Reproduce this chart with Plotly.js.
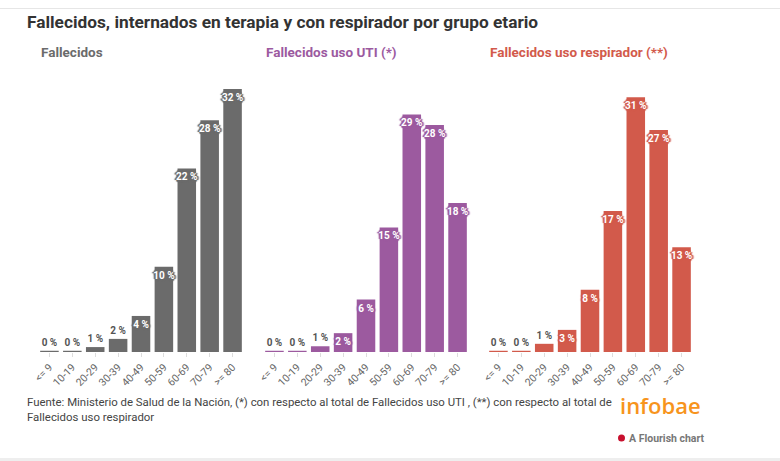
<!DOCTYPE html>
<html>
<head>
<meta charset="utf-8">
<script src="https://cdn.plot.ly/plotly-3.0.1.min.js"></script>
<style>
html,body{margin:0;padding:0;background:#fff;}
#chart{width:780px;height:461px;}
</style>
</head>
<body>
<div id="chart"></div>
<script>
const categories = ["<= 9","10-19","20-29","30-39","40-49","50-59","60-69","70-79",">= 80"];
const fallecidos = [0.15, 0.15, 0.6, 1.6, 4.4, 10.4, 22.4, 28.3, 32.1];
const fallecidosUTI = [0.15, 0.15, 0.7, 2.3, 6.4, 15.2, 29.0, 27.7, 18.2];
const fallecidosRespirador = [0.15, 0.15, 1.0, 2.7, 7.6, 17.2, 31.1, 27.1, 12.8];
const panelTitles = ["Fallecidos", "Fallecidos uso UTI (*)", "Fallecidos uso respirador (**)"];

const colors = ["#6b6b6b", "#9c5a9f", "#d25a4b"];
const series = [fallecidos, fallecidosUTI, fallecidosRespirador];
const domains = [[38/780, 244/780], [263/780, 469/780], [487/780, 693/780]];
const font = "Roboto, 'Open Sans', sans-serif";

const traces = series.map((vals, i) => {
  const c = colors[i];
  const halo = `1px 0 0 ${c}, -1px 0 0 ${c}, 0 1px 0 ${c}, 0 -1px 0 ${c}, 2px 0 1px ${c}, -2px 0 1px ${c}, 0 2px 1px ${c}, 0 -2px 1px ${c}`;
  return {
    type: "bar",
    x: categories,
    y: vals,
    xaxis: i === 0 ? "x" : "x" + (i + 1),
    yaxis: i === 0 ? "y" : "y" + (i + 1),
    marker: {color: c},
    text: vals.map(v => Math.round(v) + " %"),
    texttemplate: "%{text}",
    textposition: vals.map(v => v >= 2 ? "inside" : "outside"),
    insidetextanchor: "end",
    textangle: 0,
    constraintext: "none",
    cliponaxis: false,
    insidetextfont: {family: font, size: 10, color: "#ffffff", weight: 700, shadow: halo},
    outsidetextfont: {family: font, size: 10, color: "#555555", weight: 700},
    hoverinfo: "skip",
    showlegend: false
  };
});

const layout = {
  width: 780, height: 461,
  margin: {l: 0, r: 0, t: 89, b: 109},
  paper_bgcolor: "#ffffff",
  plot_bgcolor: "#ffffff",
  bargap: 0.19,
  font: {family: font, color: "#333"},
  annotations: [],
  shapes: [
    {type: "line", xref: "paper", yref: "paper", x0: 0, x1: 1, y0: 1 + (89 - 8.5) / 263, y1: 1 + (89 - 8.5) / 263, line: {color: "#e6e6e6", width: 1}},
    {type: "rect", xref: "paper", yref: "paper", x0: 0, x1: 1, y0: -(458 - 352) / 263, y1: -(461 - 352) / 263, line: {width: 0}, fillcolor: "#eeeeee"}
  ]
};

for (let i = 0; i < 3; i++) {
  const sx = i === 0 ? "" : String(i + 1);
  layout["xaxis" + sx] = {
    domain: domains[i],
    anchor: "y" + sx,
    tickangle: -45,
    tickfont: {family: font, size: 10.5, color: "#666"},
    ticks: "outside", ticklen: 4, tickcolor: "#dddddd", tickwidth: 1,
    showline: false, showgrid: false, zeroline: false,
    fixedrange: true
  };
  layout["yaxis" + sx] = {
    domain: [0, 1],
    anchor: "x" + sx,
    range: [0, 32.1],
    visible: false,
    showgrid: false, zeroline: false,
    fixedrange: true
  };
  layout.annotations.push({
    xref: "paper", yref: "paper",
    x: domains[i][0] + 1/780, y: 1 + (89 - 52) / 263,
    xanchor: "left", yanchor: "middle",
    text: "<b>" + panelTitles[i] + "</b>",
    showarrow: false,
    font: {family: font, size: 13.5, color: colors[i]}
  });
}

layout.annotations.push(
  {xref: "paper", yref: "paper", x: 25/780, y: 1 + (89 - 22) / 263, xanchor: "left", yanchor: "middle",
   text: "<b>Fallecidos, internados en terapia y con respirador por grupo etario</b>", showarrow: false,
   font: {family: font, size: 17.3, color: "#333333"}},
  {xref: "paper", yref: "paper", x: 25/780, y: -(409 - 352) / 263, xanchor: "left", yanchor: "middle", align: "left",
   text: "Fuente: Ministerio de Salud de la Nación, (*) con respecto al total de Fallecidos uso UTI , (**) con respecto al total de<br>Fallecidos uso respirador",
   showarrow: false, font: {family: font, size: 11.4, color: "#444444"}},
  {xref: "paper", yref: "paper", x: 618/780, y: -(405 - 352) / 263, xanchor: "left", yanchor: "middle",
   text: "infobae", showarrow: false, font: {family: "'Open Sans', Roboto, sans-serif", size: 22, color: "#f7941d", weight: 600}},
  {xref: "paper", yref: "paper", x: 627/780, y: -(438 - 352) / 263, xanchor: "left", yanchor: "middle",
   text: "<b>A Flourish chart</b>", showarrow: false, font: {family: font, size: 10.5, color: "#777777"}}
);
layout.shapes.push({type: "circle", xref: "paper", yref: "paper",
  x0: 618/780, x1: 625/780, y0: -(434.5 - 352) / 263, y1: -(441.5 - 352) / 263,
  fillcolor: "#c8102e", line: {width: 0}});

Plotly.newPlot("chart", traces, layout, {displayModeBar: false, staticPlot: true});
</script>
</body>
</html>
